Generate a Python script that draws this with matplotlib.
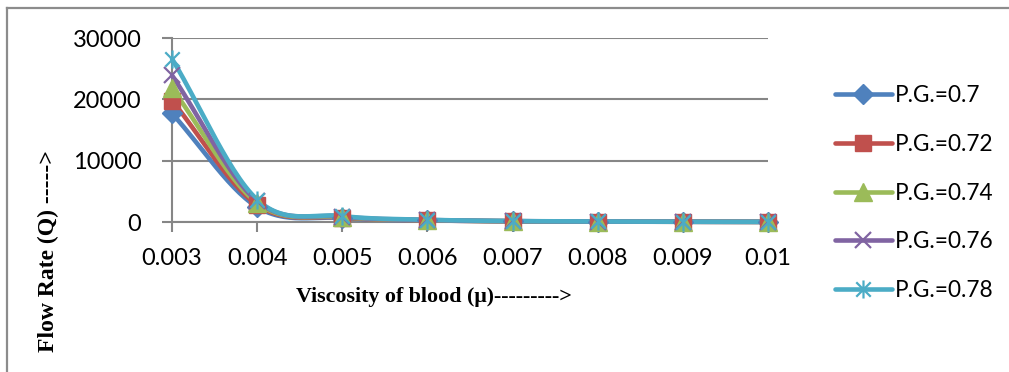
import numpy as np
import matplotlib
matplotlib.use("Agg")
import matplotlib.pyplot as plt
from matplotlib.path import Path
from matplotlib.lines import Line2D

# viscosity of blood (categories on the x axis)
viscosity = ["0.003", "0.004", "0.005", "0.006", "0.007", "0.008", "0.009", "0.01"]

# flow rate Q for each pressure gradient
q_070 = [17700, 2450, 650, 250, 110, 60, 30, 20]
q_072 = [19800, 2800, 730, 280, 120, 65, 35, 20]
q_074 = [21800, 3100, 810, 310, 130, 70, 40, 25]
q_076 = [23900, 3400, 890, 340, 145, 75, 45, 25]
q_078 = [26600, 3650, 980, 370, 160, 85, 45, 30]

labels = ["P.G.=0.7", "P.G.=0.72", "P.G.=0.74", "P.G.=0.76", "P.G.=0.78"]
colors = ["#4F81BD", "#C0504D", "#9BBB59", "#8064A2", "#4BACC6"]

# asterisk marker: an x with a vertical stroke through it
star = Path([(-1, -1), (1, 1), (-1, 1), (1, -1), (0, -1.25), (0, 1.25)],
            [Path.MOVETO, Path.LINETO, Path.MOVETO, Path.LINETO, Path.MOVETO, Path.LINETO])
markers = [dict(marker="D", ms=10),
           dict(marker="s", ms=12),
           dict(marker="^", ms=13),
           dict(marker="x", ms=12, mew=1.6),
           dict(marker=star, ms=13, mew=1.6, mfc="none")]


def smooth(x, y, n=30):
    # Catmull-Rom curve through the points, like a smoothed Excel line
    x = np.asarray(x, float)
    y = np.asarray(y, float)
    px = np.concatenate([[2 * x[0] - x[1]], x, [2 * x[-1] - x[-2]]])
    py = np.concatenate([[2 * y[0] - y[1]], y, [2 * y[-1] - y[-2]]])
    xs, ys = [], []
    for i in range(1, len(px) - 2):
        t = np.linspace(0, 1, n)
        m0x, m1x = (px[i + 1] - px[i - 1]) / 2, (px[i + 2] - px[i]) / 2
        m0y, m1y = (py[i + 1] - py[i - 1]) / 2, (py[i + 2] - py[i]) / 2
        h00 = 2 * t**3 - 3 * t**2 + 1
        h10 = t**3 - 2 * t**2 + t
        h01 = -2 * t**3 + 3 * t**2
        h11 = t**3 - t**2
        xs.append(h00 * px[i] + h10 * m0x + h01 * px[i + 1] + h11 * m1x)
        ys.append(h00 * py[i] + h10 * m0y + h01 * py[i + 1] + h11 * m1y)
    return np.concatenate(xs), np.concatenate(ys)


plt.rcParams["font.family"] = ["Lato", "DejaVu Sans"]

fig = plt.figure(figsize=(10.09, 3.72), dpi=100)
ax = fig.add_axes([0.1705, 0.4032, 0.5906, 0.4946])

x = np.arange(len(viscosity))
handles = []
for q, lab, c, mk in zip([q_070, q_072, q_074, q_076, q_078], labels, colors, markers):
    sx, sy = smooth(x, q)
    ax.plot(sx, sy, color=c, lw=3.3, solid_capstyle="round", clip_on=False, zorder=3)
    ax.plot(x, q, ls="none", color=c, mec=c, clip_on=False, zorder=4, **mk)
    handles.append(Line2D([], [], color=c, mec=c, lw=3.3, solid_capstyle="round", **mk))

ax.set_xlim(0, 7)
ax.set_ylim(0, 30000)
ax.set_xticks(x)
ax.set_xticklabels(viscosity)
ax.set_yticks([0, 10000, 20000, 30000])
ax.tick_params(labelsize=17, length=7, width=1.5, color="#868686", pad=12)
ax.tick_params(axis="y", pad=15)
ax.yaxis.grid(True, color="#868686", lw=1.5)
ax.set_axisbelow(True)
for s in ["top", "right"]:
    ax.spines[s].set_visible(False)
for s in ["left", "bottom"]:
    ax.spines[s].set_color("#868686")
    ax.spines[s].set_linewidth(1.5)

fig.text(434 / 1009, 1 - 297 / 372, "Viscosity of blood (\u03bc)--------->",
         family="Liberation Serif", weight="bold", fontsize=15.8, ha="center", va="center")
fig.text(48 / 1009, 1 - 251 / 372, "Flow Rate (Q) ----->", family="Liberation Serif",
         weight="bold", fontsize=17, rotation=90, ha="center", va="center")

fig.legend(handles, labels, loc="center left", bbox_to_anchor=(826 / 1009, 1 - 193 / 372),
           frameon=False, fontsize=16.3, handlelength=2.5, handletextpad=0.15,
           labelspacing=1.22, borderaxespad=0)

# outer frame, top and left edges only
fig.add_artist(Line2D([7 / 1009, 1], [1 - 8 / 372] * 2, color="#8c8c8c", lw=1.6))
fig.add_artist(Line2D([7 / 1009] * 2, [0, 1 - 8 / 372], color="#8c8c8c", lw=1.6))

fig.savefig("out.png", dpi=100)
